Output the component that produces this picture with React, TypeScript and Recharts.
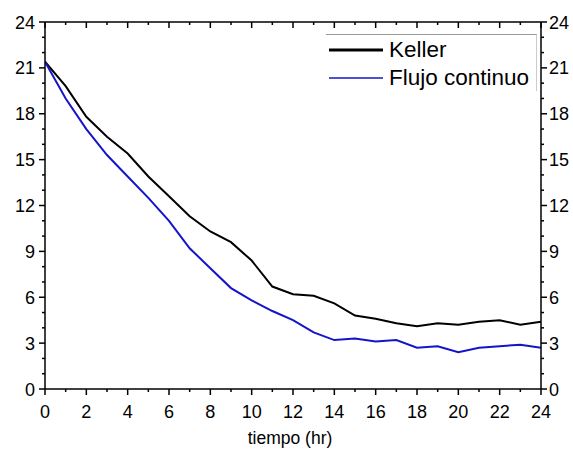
import { LineChart, Line, XAxis, YAxis, Legend, Label } from 'recharts'

const hours = [0, 1, 2, 3, 4, 5, 6, 7, 8, 9, 10, 11, 12, 13, 14, 15, 16, 17, 18, 19, 20, 21, 22, 23, 24]
const keller = [21.4, 19.8, 17.8, 16.5, 15.4, 13.9, 12.6, 11.3, 10.3, 9.6, 8.4, 6.7, 6.2, 6.1, 5.6, 4.8, 4.6, 4.3, 4.1, 4.3, 4.2, 4.4, 4.5, 4.2, 4.4]
const flujo = [21.4, 19.0, 17.0, 15.3, 13.9, 12.5, 11.0, 9.2, 7.9, 6.6, 5.8, 5.1, 4.5, 3.7, 3.2, 3.3, 3.1, 3.2, 2.7, 2.8, 2.4, 2.7, 2.8, 2.9, 2.7]
const xTicks = hours
const yTicks = [0, 1, 2, 3, 4, 5, 6, 7, 8, 9, 10, 11, 12, 13, 14, 15, 16, 17, 18, 19, 20, 21, 22, 23, 24]

const FONT = '"Liberation Sans", Arial, sans-serif'
const BLUE = '#1414c8'

const data = hours.map((t, i) => ({ t, keller: keller[i], flujo: flujo[i] }))

const LeftTick = ({ x, y, payload }: any) => {
  const v = payload.value
  const major = v % 3 === 0
  return (
    <g>
      <line x1={x} x2={x - (major ? 6 : 3)} y1={y} y2={y} stroke="#000" strokeWidth={1.5} />
      {major && (
        <text x={x - 10} y={y + 6.5} textAnchor="end" fontSize={18} fontFamily={FONT} fill="#000">{v}</text>
      )}
    </g>
  )
}

const RightTick = ({ x, y, payload }: any) => {
  const v = payload.value
  const major = v % 3 === 0
  return (
    <g>
      <line x1={x} x2={x + (major ? 6 : 3)} y1={y} y2={y} stroke="#000" strokeWidth={1.5} />
      {major && (
        <text x={x + 8} y={y + 6.5} textAnchor="start" fontSize={18} fontFamily={FONT} fill="#000">{v}</text>
      )}
    </g>
  )
}

const BottomTick = ({ x, y, payload }: any) => {
  const v = payload.value
  const major = v % 2 === 0
  return (
    <g>
      <line x1={x} x2={x} y1={y} y2={y + (major ? 6 : 3)} stroke="#000" strokeWidth={1.5} />
      {major && (
        <text x={x} y={y + 29} textAnchor="middle" fontSize={18} fontFamily={FONT} fill="#000">{v}</text>
      )}
    </g>
  )
}

const TopTick = ({ x, y, payload }: any) => {
  const major = payload.value % 2 === 0
  return <line x1={x} x2={x} y1={y} y2={y + (major ? 6 : 3)} stroke="#000" strokeWidth={1.5} />
}

const CustomLegend = () => {
  const items = [
    { name: 'Keller', color: '#000', width: 3 },
    { name: 'Flujo continuo', color: BLUE, width: 1.5 },
  ]
  return (
    <div
      style={{
        borderTop: '1px solid #999',
        borderRight: '1px solid #ccc',
        height: 57,
        paddingTop: 1,
        fontFamily: FONT,
        fontSize: 22.5,
        boxSizing: 'border-box',
      }}
    >
      {items.map((it) => (
        <div key={it.name} style={{ display: 'flex', alignItems: 'center', height: 28 }}>
          <svg width={60} height={10} style={{ marginLeft: 3 }}>
            <line x1={0} x2={54} y1={5} y2={5} stroke={it.color} strokeWidth={it.width} />
          </svg>
          <span style={{ color: '#000', lineHeight: '28px', whiteSpace: 'nowrap' }}>{it.name}</span>
        </div>
      ))}
    </div>
  )
}

export default function App() {
  return (
    <div style={{ position: 'absolute', left: 0, top: 0, background: '#fff' }}>
      <LineChart width={573} height={454} data={data} margin={{ top: 20, right: 0, bottom: 0, left: 0 }}>
        <XAxis
          xAxisId="b"
          dataKey="t"
          type="number"
          domain={[0, 24]}
          ticks={xTicks}
          interval={0}
          height={65}
          tickSize={0}
          tickMargin={0}
          tickLine={false}
          tick={<BottomTick />}
          axisLine={{ stroke: '#000', strokeWidth: 1.5 }}
          allowDataOverflow
        >
          <Label
            content={({ viewBox }: any) => (
              <text x={viewBox.x + viewBox.width / 2 - 3} y={viewBox.y + 55} textAnchor="middle" fontSize={17.5} fontFamily={FONT} fill="#000">
                tiempo (hr)
              </text>
            )}
          />
        </XAxis>
        <XAxis
          xAxisId="top"
          orientation="top"
          dataKey="t"
          type="number"
          domain={[0, 24]}
          ticks={xTicks}
          interval={0}
          height={2}
          tickSize={0}
          tickMargin={0}
          tickLine={false}
          tick={<TopTick />}
          axisLine={{ stroke: '#000', strokeWidth: 1.5 }}
          allowDataOverflow
        />
        <YAxis
          yAxisId="l"
          type="number"
          domain={[0, 24]}
          ticks={yTicks}
          interval={0}
          width={45}
          tickSize={0}
          tickMargin={0}
          tickLine={false}
          tick={<LeftTick />}
          axisLine={{ stroke: '#000', strokeWidth: 1.5 }}
          allowDataOverflow
        />
        <YAxis
          yAxisId="r"
          orientation="right"
          type="number"
          domain={[0, 24]}
          ticks={yTicks}
          interval={0}
          width={32}
          tickSize={0}
          tickMargin={0}
          tickLine={false}
          tick={<RightTick />}
          axisLine={{ stroke: '#000', strokeWidth: 1.5 }}
          allowDataOverflow
        />
        <Legend
          layout="horizontal"
          verticalAlign="middle"
          content={<CustomLegend />}
          wrapperStyle={{ position: 'absolute', left: 326, top: 34, width: 211, bottom: 'auto' }}
        />
        <Line
          xAxisId="b"
          yAxisId="l"
          type="linear"
          dataKey="keller"
          name="Keller"
          stroke="#000"
          strokeWidth={2}
          dot={false}
          isAnimationActive={false}
        />
        <Line
          xAxisId="b"
          yAxisId="l"
          type="linear"
          dataKey="flujo"
          name="Flujo continuo"
          stroke={BLUE}
          strokeWidth={2}
          dot={false}
          isAnimationActive={false}
        />
      </LineChart>
    </div>
  )
}
